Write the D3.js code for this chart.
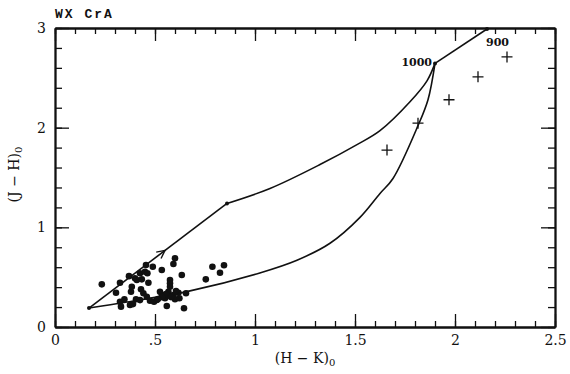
<!DOCTYPE html>
<meta charset="utf-8">
<style>
  body { margin: 0; background: #fff; }
  svg text { font-family: 'DejaVu Serif', serif; fill: #111; }
  .tick line { stroke: #111; stroke-width: 1.3px; }
  .domain { stroke: #111; stroke-width: 1.8px; }
</style>
<body>
<div id="my_dataviz"></div>

<script src="https://d3js.org/d3.v7.min.js"></script>
<script>

// ---- values ----
// cluster of stars (filled dots)
var dotHK = [0.234, 0.325, 0.305, 0.325, 0.33, 0.347, 0.37, 0.375, 0.38, 0.384,
             0.40, 0.409, 0.405, 0.425, 0.434, 0.43, 0.442, 0.455, 0.45, 0.462,
             0.467, 0.459, 0.475, 0.489, 0.495, 0.509, 0.534, 0.534, 0.55, 0.559,
             0.567, 0.575, 0.575, 0.575, 0.592, 0.60, 0.592, 0.60, 0.617, 0.622,
             0.634, 0.645, 0.655, 0.754, 0.787, 0.825, 0.845, 0.525, 0.555, 0.535,
             0.58, 0.425, 0.39, 0.605, 0.515];
var dotJH = [0.428, 0.444, 0.344, 0.254, 0.204, 0.278, 0.51, 0.22, 0.354, 0.404,
             0.488, 0.471, 0.278, 0.539, 0.478, 0.378, 0.338, 0.622, 0.555, 0.539,
             0.444, 0.304, 0.264, 0.605, 0.254, 0.271, 0.572, 0.321, 0.288, 0.211,
             0.354, 0.471, 0.438, 0.404, 0.632, 0.689, 0.321, 0.278, 0.344, 0.288,
             0.522, 0.188, 0.338, 0.478, 0.605, 0.545, 0.619, 0.354, 0.331, 0.30,
             0.30, 0.27, 0.23, 0.36, 0.28];

// WX CrA observations (plus signs)
var crossHK = [1.66, 1.815, 1.97, 2.115, 2.26];
var crossJH = [1.775, 2.045, 2.28, 2.51, 2.71];

// upper track: straight part, curved part, last straight part
var upStraightHK = [0.17, 0.86];
var upStraightJH = [0.19, 1.24];
var upCurveHK = [0.86, 1.075, 1.325, 1.51, 1.625, 1.775, 1.86, 1.90];
var upCurveJH = [1.24, 1.39, 1.63, 1.83, 1.97, 2.26, 2.47, 2.645];
var upEndHK = [1.90, 2.16];
var upEndJH = [2.645, 2.99];

// lower track
var lowHK = [0.17, 0.36, 0.67, 1.02, 1.21, 1.375, 1.525, 1.625, 1.69, 1.815, 1.865, 1.90];
var lowJH = [0.19, 0.25, 0.36, 0.54, 0.67, 0.84, 1.10, 1.34, 1.49, 2.02, 2.28, 2.645];

// small knots on the tracks, and the temperature labels
var knotHK = [0.17, 0.86, 1.90, 2.16];
var knotJH = [0.19, 1.24, 2.645, 2.99];
var tempLabels = ["1000", "900"];

// direction arrow on the straight part
var arrowHK = 0.55;

var xMajor = [0, 0.5, 1, 1.5, 2, 2.5];
var xLabels = ["0", ".5", "1", "1.5", "2", "2.5"];
var yMajor = [0, 1, 2, 3];
var yLabels = ["0", "1", "2", "3"];

// ---- dimensions ----
var margin = {top: 28, right: 15, bottom: 47, left: 55},
    width = 570 - margin.left - margin.right,
    height = 374 - margin.top - margin.bottom;

var svg = d3.select("#my_dataviz")
  .append("svg")
    .attr("width", width + margin.left + margin.right)
    .attr("height", height + margin.top + margin.bottom)
  .append("g")
    .attr("transform", "translate(" + margin.left + "," + margin.top + ")");

var x = d3.scaleLinear().domain([0, 2.5]).range([0, width]);
var y = d3.scaleLinear().domain([0, 3]).range([height, 0]);

var xMinor = x.ticks(25);
var yMinor = y.ticks(15);

// minor ticks all round, pointing in
svg.append("g")
  .attr("transform", "translate(0," + height + ")")
  .call(d3.axisBottom(x).tickValues(xMinor).tickSize(-6).tickSizeOuter(0).tickFormat(""));
svg.append("g")
  .call(d3.axisTop(x).tickValues(xMinor).tickSize(-6).tickSizeOuter(0).tickFormat(""));
svg.append("g")
  .call(d3.axisLeft(y).tickValues(yMinor).tickSize(-7).tickSizeOuter(0).tickFormat(""));
svg.append("g")
  .attr("transform", "translate(" + width + ",0)")
  .call(d3.axisRight(y).tickValues(yMinor).tickSize(-7).tickSizeOuter(0).tickFormat(""));

// major ticks with labels
svg.append("g")
  .attr("transform", "translate(0," + height + ")")
  .call(d3.axisBottom(x).tickValues(xMajor).tickSize(-13).tickSizeOuter(0).tickPadding(8)
    .tickFormat(function(d, i) { return xLabels[i]; }));
svg.append("g")
  .call(d3.axisTop(x).tickValues(xMajor).tickSize(-13).tickSizeOuter(0).tickFormat(""));
svg.append("g")
  .call(d3.axisLeft(y).tickValues(yMajor).tickSize(-14).tickSizeOuter(0).tickPadding(9)
    .tickFormat(function(d, i) { return yLabels[i]; }));
svg.append("g")
  .attr("transform", "translate(" + width + ",0)")
  .call(d3.axisRight(y).tickValues(yMajor).tickSize(-14).tickSizeOuter(0).tickFormat(""));

svg.selectAll(".tick text").style("font-size", "14px").style("fill", "#111");

// ---- tracks ----
function zipPts(a, b) { return a.map(function(v, i) { return [v, b[i]]; }); }

var straight = d3.line()
  .x(function(d) { return x(d[0]); })
  .y(function(d) { return y(d[1]); });
var smooth = d3.line()
  .x(function(d) { return x(d[0]); })
  .y(function(d) { return y(d[1]); })
  .curve(d3.curveCatmullRom.alpha(0.5));

var trackStyle = function(sel) {
  sel.attr("fill", "none").attr("stroke", "#111").attr("stroke-width", 1.6);
};

svg.append("path").datum(zipPts(upStraightHK, upStraightJH)).attr("d", straight).call(trackStyle);
svg.append("path").datum(zipPts(upCurveHK, upCurveJH)).attr("d", smooth).call(trackStyle);
svg.append("path").datum(zipPts(upEndHK, upEndJH)).attr("d", straight).call(trackStyle);
svg.append("path").datum(zipPts(lowHK, lowJH)).attr("d", smooth).call(trackStyle);

// knots
svg.selectAll("knot")
  .data(zipPts(knotHK, knotJH))
  .enter()
  .append("circle")
    .attr("cx", function(d) { return x(d[0]); })
    .attr("cy", function(d) { return y(d[1]); })
    .attr("r", 2)
    .attr("fill", "#111");

// arrow head along the straight part
var ax0 = x(upStraightHK[0]), ay0 = y(upStraightJH[0]),
    ax1 = x(upStraightHK[1]), ay1 = y(upStraightJH[1]);
var ang = Math.atan2(ay1 - ay0, ax1 - ax0) * 180 / Math.PI;
var tFrac = (arrowHK - upStraightHK[0]) / (upStraightHK[1] - upStraightHK[0]);
var tipX = ax0 + (ax1 - ax0) * tFrac, tipY = ay0 + (ay1 - ay0) * tFrac;
svg.append("path")
  .attr("d", "M-8,-4L0,0L-8,4")
  .attr("transform", "translate(" + tipX + "," + tipY + ") rotate(" + ang + ")")
  .attr("fill", "none")
  .attr("stroke", "#111")
  .attr("stroke-width", 1.4);

// temperature labels
svg.append("text")
  .attr("x", x(knotHK[2]) - 3)
  .attr("y", y(knotJH[2]) + 3)
  .attr("text-anchor", "end")
  .style("font-size", "11px")
  .style("font-weight", "bold")
  .text(tempLabels[0]);
svg.append("text")
  .attr("x", x(knotHK[3]) - 1)
  .attr("y", y(knotJH[3]) + 17)
  .style("font-size", "11px")
  .style("font-weight", "bold")
  .text(tempLabels[1]);

// ---- stars ----
svg.selectAll("dot")
  .data(zipPts(dotHK, dotJH))
  .enter()
  .append("circle")
    .attr("cx", function(d) { return x(d[0]); })
    .attr("cy", function(d) { return y(d[1]); })
    .attr("r", 3.3)
    .attr("fill", "#111");

svg.selectAll("cross")
  .data(zipPts(crossHK, crossJH))
  .enter()
  .append("path")
    .attr("d", function(d) {
      var cx = x(d[0]), cy = y(d[1]);
      return "M" + (cx - 5.5) + "," + cy + "H" + (cx + 5.5) + "M" + cx + "," + (cy - 5.5) + "V" + (cy + 5.5);
    })
    .attr("stroke", "#111")
    .attr("stroke-width", 1.3);

// ---- titles ----
svg.append("text")
  .attr("x", 0)
  .attr("y", -10)
  .style("font-family", "'Liberation Mono', monospace")
  .style("font-weight", "bold")
  .style("font-size", "13px")
  .style("letter-spacing", "2px")
  .text("WX CrA");

var xt = svg.append("text")
  .attr("x", width / 2)
  .attr("y", height + 36)
  .attr("text-anchor", "middle")
  .style("font-size", "14px");
xt.append("tspan").text("(H \u2212 K)");
xt.append("tspan").attr("dy", 3).style("font-size", "10px").text("0");

var yt = svg.append("text")
  .attr("transform", "translate(" + (-36) + "," + (height / 2 - 3) + ") rotate(-90)")
  .attr("text-anchor", "middle")
  .style("font-size", "14px");
yt.append("tspan").text("(J \u2212 H)");
yt.append("tspan").attr("dy", 3).style("font-size", "10px").text("0");

</script>
</body>
